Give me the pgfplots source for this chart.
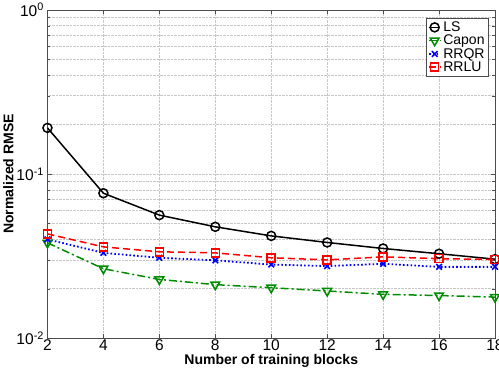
\documentclass[border=0pt]{standalone}
\usepackage{pgfplots}
\pgfplotsset{compat=1.18}
\usepackage{fontspec}
\setmainfont{Liberation Sans}
\begin{document}
\begin{tikzpicture}[trim right=451pt]
\begin{axis}[
  scale only axis, width=447pt, height=328pt,
  at={(0,0)}, anchor=south west,
  ymode=log, ymin=0.01, ymax=1,
  xmin=2, xmax=18, xtick={2,4,...,18},
  ytick={0.01,0.1,1},
  yticklabels={10\textsuperscript{-2},10\textsuperscript{-1},10\textsuperscript{0}},
  /pgf/number format/assume math mode=true,
  tick label style={font=\fontsize{15.5}{17}\selectfont},
  xticklabel style={inner ysep=1pt},
  label style={font=\fontsize{14}{16}\selectfont\bfseries},
  xlabel={Number of training blocks},
  ylabel={Normalized RMSE},
  xlabel style={yshift=-2pt, inner ysep=1pt},
  ylabel style={yshift=-4pt},
  grid=both,
  major grid style={gray!45, densely dotted, line width=0.6pt},
  minor grid style={gray!45, densely dotted, line width=0.6pt},
  axis line style={gray!60!black, line width=0.6pt},
  tick style={gray!60!black},
  legend style={at={(0.985,0.975)}, anchor=north east, font=\fontsize{14}{16}\selectfont,
    draw=gray!60!black, inner sep=1.5pt, row sep=-2pt, cells={anchor=west}},
  legend image code/.code={\draw[mark repeat=2,mark phase=2,#1] plot coordinates {(0cm,0cm) (0.2cm,0cm) (0.4cm,0cm)};},
]
\addplot[black, line width=1.5pt, mark=o, mark size=4.5pt, mark options={solid, line width=1.5pt}] coordinates {
(2,0.191) (4,0.0764) (6,0.0562) (8,0.0477) (10,0.0420) (12,0.0383) (14,0.0352) (16,0.0327) (18,0.0303)};
\addlegendentry{LS}
\addplot[green!55!black, line width=1.5pt, dash pattern=on 8pt off 3pt on 2pt off 3pt, mark=triangle, mark size=5pt, mark options={solid, rotate=180, line width=1.5pt}] coordinates {
(2,0.0381) (4,0.0265) (6,0.0228) (8,0.0212) (10,0.0203) (12,0.0194) (14,0.0185) (16,0.0182) (18,0.0178)};
\addlegendentry{Capon}
\addplot[blue, line width=1.8pt, dash pattern=on 1.6pt off 2.2pt, mark=x, mark size=4pt, mark options={solid, line width=1.6pt}] coordinates {
(2,0.0400) (4,0.0331) (6,0.0309) (8,0.0298) (10,0.0281) (12,0.0275) (14,0.0284) (16,0.0272) (18,0.0272)};
\addlegendentry{RRQR}
\addplot[red, line width=1.5pt, dash pattern=on 7pt off 4pt, mark=square, mark size=4pt, mark options={solid, line width=1.5pt}] coordinates {
(2,0.0432) (4,0.0360) (6,0.0336) (8,0.0331) (10,0.0309) (12,0.0300) (14,0.0313) (16,0.0305) (18,0.0302)};
\addlegendentry{RRLU}
\end{axis}
\end{tikzpicture}
\end{document}
